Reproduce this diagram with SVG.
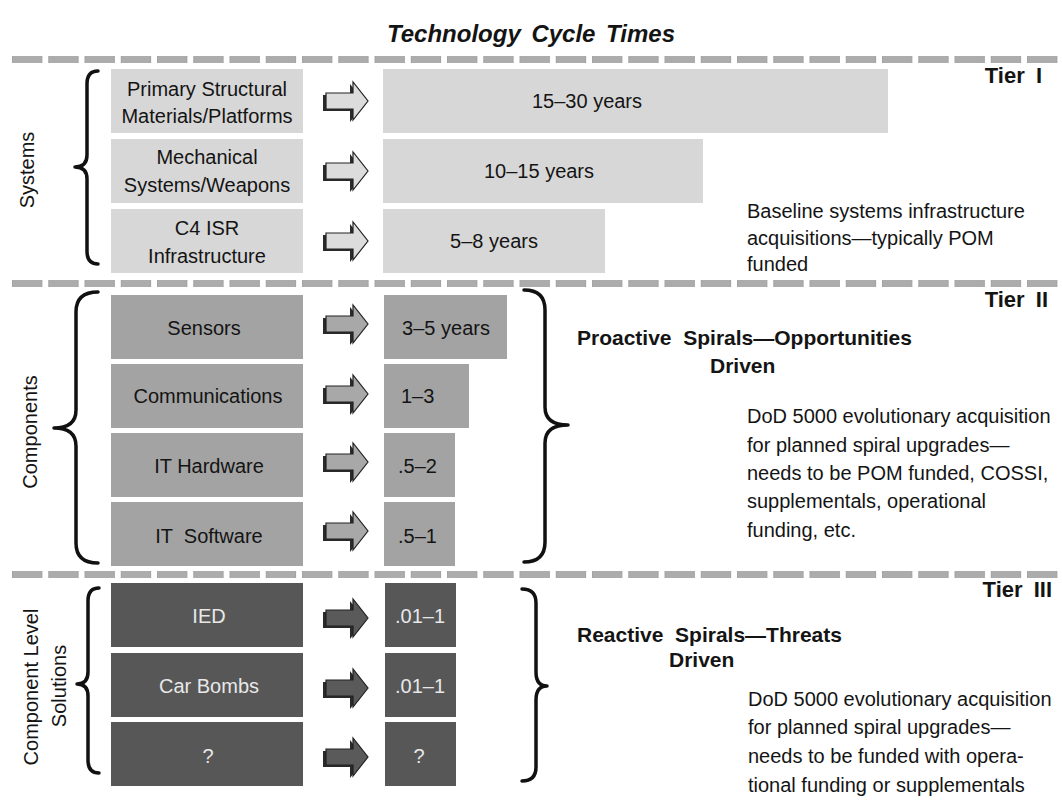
<svg xmlns="http://www.w3.org/2000/svg" xmlns:xlink="http://www.w3.org/1999/xlink" width="1062" height="801" viewBox="0 0 1062 801">
  <style>
    text { font-family: "Liberation Sans", Arial, Helvetica, sans-serif; font-size: 20px; fill: #141414; }
    .title { font-size: 24px; font-weight: bold; font-style: italic; word-spacing: 4px; }
    .tier { font-size: 22px; font-weight: bold; word-spacing: 5px; }
    .head { font-size: 21px; font-weight: bold; }
    .mid { text-anchor: middle; }
    .t1 { fill: #d7d7d7; }
    .t2 { fill: #a3a3a3; }
    .t3 { fill: #575757; }
    .light { fill: #e8e8e8; }
    .brace { fill: none; stroke: #111; stroke-width: 3.5; stroke-linecap: round; stroke-linejoin: round; }
    .side { font-size: 20px; }
  </style>
  <defs>
    <pattern id="dash" patternUnits="userSpaceOnUse" x="12" y="0" width="36.25" height="801">
      <rect x="0" y="0" width="30" height="801" fill="#acacac" stroke="#989898" stroke-width="0.8"/>
    </pattern>
    <!-- block arrow, origin at the left end of the shaft, vertically centred -->
    <polygon id="arrowShadow" points="0,-8 27,-8 27,-19 42,0 27,19 27,8 0,8" fill="#2a2a2a" transform="translate(-3,2)"/>
    <polygon id="arrowBody" points="0,-8 27,-8 27,-19 42,0 27,19 27,8 0,8" stroke="#222" stroke-width="1.2" stroke-linejoin="miter"/>
    <g id="arrow">
      <use xlink:href="#arrowShadow"/>
      <use xlink:href="#arrowBody"/>
    </g>
  </defs>

  <rect width="1062" height="801" fill="#ffffff"/>

  <text class="title mid" x="531" y="42">Technology Cycle Times</text>

  <!-- tier dividers -->
  <g id="dividers">
    <rect x="12" y="56" width="1046" height="7" fill="url(#dash)"/>
    <rect x="12" y="280" width="1046" height="7" fill="url(#dash)"/>
    <rect x="12" y="571" width="1046" height="7" fill="url(#dash)"/>
  </g>

  <!-- Tier I : systems -->
  <g id="tier1">
    <text class="tier" x="1042" y="83" text-anchor="end">Tier I</text>
    <text class="side mid" transform="translate(34,170) rotate(-90)">Systems</text>
    <path class="brace" d="M98,71 Q87,71 87,84 L87,155 Q87,167 75,167 Q87,167 87,179 L87,251 Q87,264 98,264"/>

    <g id="primary-structural">
      <rect class="t1" x="111" y="69" width="192" height="64"/>
      <text class="mid" x="207" y="96">Primary Structural</text>
      <text class="mid" x="207" y="123">Materials/Platforms</text>
    </g>
    <g id="mechanical-systems">
      <rect class="t1" x="111" y="139" width="192" height="64"/>
      <text class="mid" x="207" y="164">Mechanical</text>
      <text class="mid" x="207" y="192">Systems/Weapons</text>
    </g>
    <g id="c4isr">
      <rect class="t1" x="111" y="209" width="192" height="64"/>
      <text class="mid" x="207" y="235">C4 ISR</text>
      <text class="mid" x="207" y="263">Infrastructure</text>
    </g>

    <g id="cycle-15-30">
      <rect class="t1" x="383" y="69" width="505" height="64"/>
      <text class="mid" x="587" y="108">15–30 years</text>
    </g>
    <g id="cycle-10-15">
      <rect class="t1" x="383" y="139" width="320" height="64"/>
      <text class="mid" x="539" y="178">10–15 years</text>
    </g>
    <g id="cycle-5-8">
      <rect class="t1" x="383" y="209" width="222" height="64"/>
      <text class="mid" x="494" y="248">5–8 years</text>
    </g>

    <g id="tier1-note">
      <text x="747" y="218">Baseline systems infrastructure</text>
      <text x="747" y="245">acquisitions—typically POM</text>
      <text x="747" y="271">funded</text>
    </g>
  </g>

  <!-- Tier II : components -->
  <g id="tier2">
    <text class="tier" x="1048" y="307" text-anchor="end">Tier II</text>
    <text class="side mid" transform="translate(37,432) rotate(-90)">Components</text>
    <path class="brace" d="M98,292 Q76,292 76,312 L76,410 Q76,428 54,428 Q76,428 76,446 L76,543 Q76,563 98,563"/>

    <g id="sensors">
      <rect class="t2" x="111" y="295" width="192" height="64"/>
      <text class="mid" x="204" y="335">Sensors</text>
    </g>
    <g id="communications">
      <rect class="t2" x="111" y="364" width="192" height="64"/>
      <text class="mid" x="208" y="403">Communications</text>
    </g>
    <g id="it-hardware">
      <rect class="t2" x="111" y="433" width="192" height="64"/>
      <text class="mid" x="209" y="473">IT Hardware</text>
    </g>
    <g id="it-software">
      <rect class="t2" x="111" y="502" width="192" height="64"/>
      <text class="mid" x="209" y="543" xml:space="preserve">IT  Software</text>
    </g>

    <g id="cycle-3-5">
      <rect class="t2" x="384" y="295" width="123" height="64"/>
      <text class="mid" x="446" y="335">3–5 years</text>
    </g>
    <g id="cycle-1-3">
      <rect class="t2" x="384" y="364" width="85" height="64"/>
      <text x="401" y="403">1–3</text>
    </g>
    <g id="cycle-05-2">
      <rect class="t2" x="384" y="433" width="71" height="64"/>
      <text x="398" y="473">.5–2</text>
    </g>
    <g id="cycle-05-1">
      <rect class="t2" x="384" y="502" width="71" height="64"/>
      <text x="398" y="543">.5–1</text>
    </g>

    <path class="brace" d="M524,290 Q545,290 545,310 L545,407 Q545,425 568,425 Q545,425 545,443 L545,542 Q545,562 524,562"/>
    <g id="tier2-note">
      <text class="head" x="577" y="345" xml:space="preserve">Proactive  Spirals—Opportunities</text>
      <text class="head" x="710" y="373">Driven</text>
      <text x="747" y="423">DoD 5000 evolutionary acquisition</text>
      <text x="747" y="452">for planned spiral upgrades—</text>
      <text x="747" y="480">needs to be POM funded, COSSI,</text>
      <text x="747" y="508">supplementals, operational</text>
      <text x="747" y="537">funding, etc.</text>
    </g>
  </g>

  <!-- Tier III : component level solutions -->
  <g id="tier3">
    <text class="tier" x="1052" y="597" text-anchor="end">Tier III</text>
    <text class="side mid" transform="translate(38,687) rotate(-90)">Component Level</text>
    <text class="side mid" transform="translate(66,686) rotate(-90)">Solutions</text>
    <path class="brace" d="M99,588 Q88,588 88,601 L88,672 Q88,684 77,684 Q88,684 88,696 L88,760 Q88,773 99,773"/>

    <g id="ied">
      <rect class="t3" x="111" y="583" width="192" height="64"/>
      <text class="mid light" x="209" y="623">IED</text>
    </g>
    <g id="car-bombs">
      <rect class="t3" x="111" y="653" width="192" height="64"/>
      <text class="mid light" x="209" y="693">Car Bombs</text>
    </g>
    <g id="unknown">
      <rect class="t3" x="111" y="722" width="192" height="64"/>
      <text class="mid light" x="208" y="763">?</text>
    </g>

    <g id="cycle-ied">
      <rect class="t3" x="385" y="583" width="71" height="64"/>
      <text class="mid light" x="420" y="623">.01–1</text>
    </g>
    <g id="cycle-car-bombs">
      <rect class="t3" x="385" y="653" width="71" height="64"/>
      <text class="mid light" x="420" y="693">.01–1</text>
    </g>
    <g id="cycle-unknown">
      <rect class="t3" x="385" y="722" width="71" height="64"/>
      <text class="mid light" x="419" y="763">?</text>
    </g>

    <path class="brace" d="M522,589 Q536,589 536,603 L536,672 Q536,686 547,686 Q536,686 536,700 L536,767 Q536,781 522,781"/>
    <g id="tier3-note">
      <text class="head" x="577" y="642" xml:space="preserve">Reactive  Spirals—Threats</text>
      <text class="head" x="669" y="667">Driven</text>
      <text x="748" y="706">DoD 5000 evolutionary acquisition</text>
      <text x="748" y="734">for planned spiral upgrades—</text>
      <text x="748" y="763">needs to be funded with opera-</text>
      <text x="748" y="792">tional funding or supplementals</text>
    </g>
  </g>

  <!-- connectors: item to cycle-time arrows -->
  <g id="connectors">
    <use xlink:href="#arrow" x="326" y="101" fill="#dcdcdc"/>
    <use xlink:href="#arrow" x="326" y="171" fill="#dcdcdc"/>
    <use xlink:href="#arrow" x="326" y="241" fill="#dcdcdc"/>
    <use xlink:href="#arrow" x="326" y="324" fill="#a8a8a8"/>
    <use xlink:href="#arrow" x="326" y="394" fill="#a8a8a8"/>
    <use xlink:href="#arrow" x="326" y="462" fill="#a8a8a8"/>
    <use xlink:href="#arrow" x="326" y="531" fill="#a8a8a8"/>
    <use xlink:href="#arrow" x="326" y="618" fill="#5a5a5a"/>
    <use xlink:href="#arrow" x="326" y="688" fill="#5a5a5a"/>
    <use xlink:href="#arrow" x="326" y="757" fill="#5a5a5a"/>
  </g>
</svg>
